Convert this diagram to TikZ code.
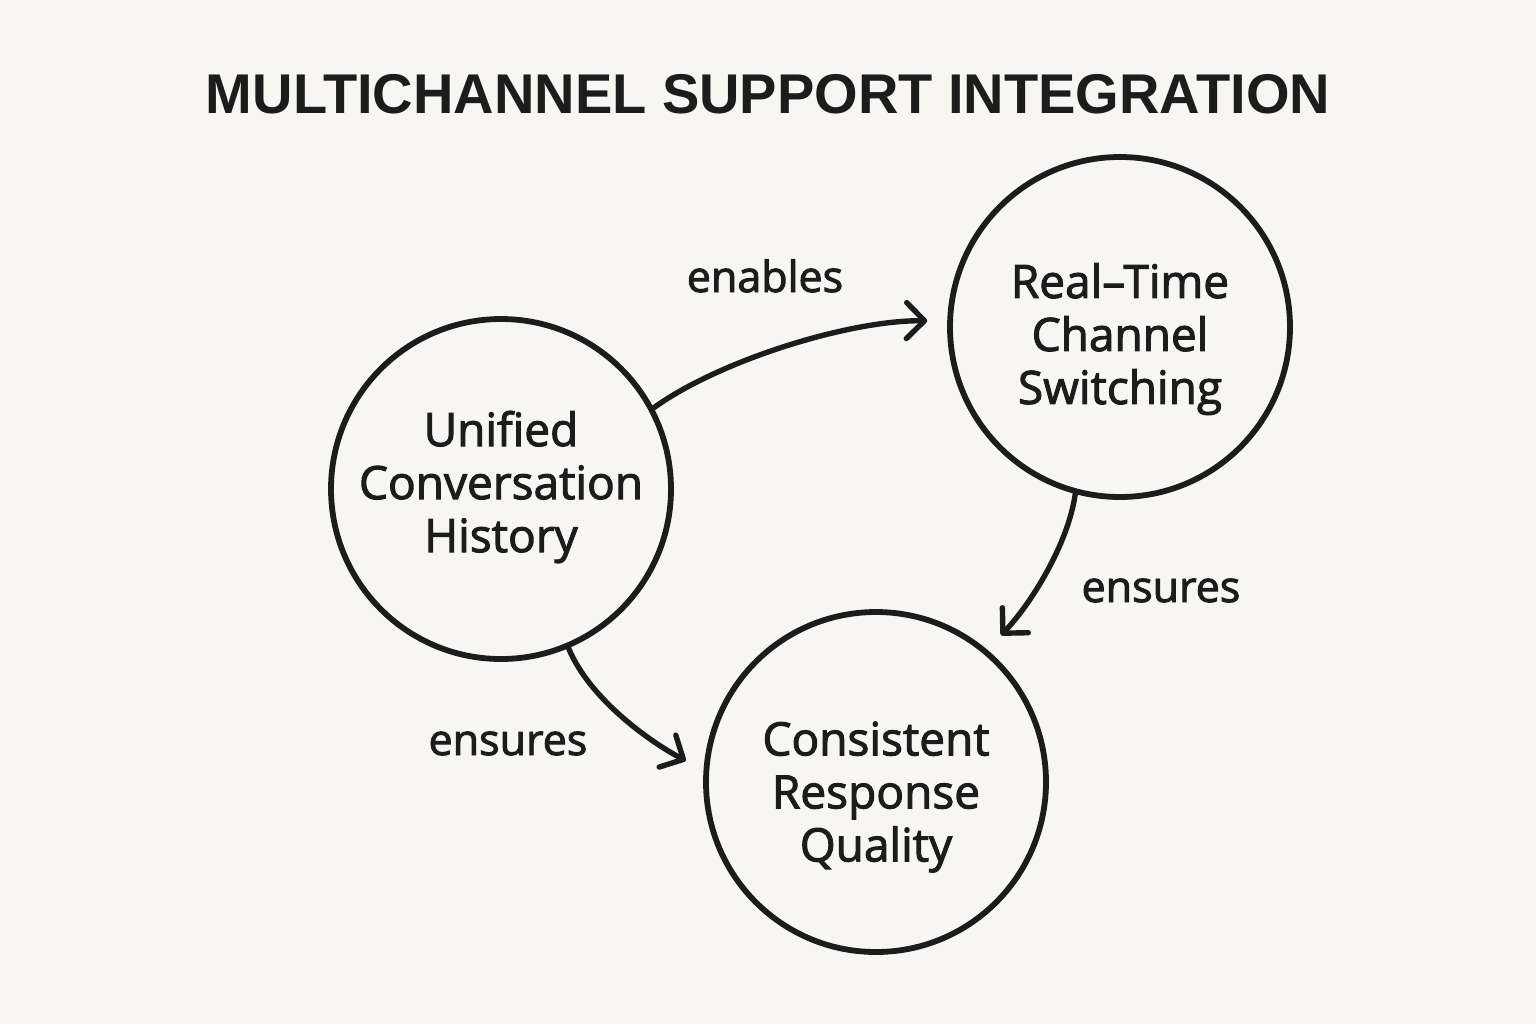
\documentclass[tikz,border=0pt]{standalone}
\usepackage{fontspec}
\setmainfont{Open Sans}
\newfontfamily\medfont{Open Sans}[FakeBold=2.2]
\newfontfamily\titlefont{Liberation Sans}
\usetikzlibrary{arrows.meta}
\definecolor{bg}{HTML}{F8F6F2}
\definecolor{ink}{HTML}{1C1C1C}
\begin{document}
\begin{tikzpicture}[x=0.5pt,y=-0.5pt,
  concept/.style={circle, draw=ink, line width=2.9pt, minimum size=170pt, inner sep=0pt},
  ctext/.style={align=center, text=ink, inner sep=0pt, font=\medfont\fontsize{23}{26.5}\selectfont},
  link/.style={draw=ink, line width=2.7pt, line cap=round,
    -{Straight Barb[length=9pt,width=18pt,round]}, shorten >=10pt},
  lbl/.style={text=ink, anchor=base, font=\medfont\fontsize{21.5}{24}\selectfont},
  heading/.style={text=ink, anchor=base, font=\titlefont\bfseries\fontsize{28}{34}\selectfont}]
\fill[bg] (0,0) rectangle (1536,1024);
\useasboundingbox (0,0) rectangle (1536,1024);

\node[heading] (title) at (768,113) {MULTICHANNEL SUPPORT INTEGRATION};

\node[concept] (u) at (501,489) {};
\node[concept] (r) at (1120,327) {};
\node[concept] (c) at (876,782) {};

\node[ctext] (ut) at ([yshift=1pt]u.center) {Unified\\Conversation\\History};
\node[ctext] (rt) at ([yshift=-6pt]r.center) {Real–Time\\Channel\\Switching};
\node[ctext] (ct) at ([yshift=-7.5pt]c.center) {Consistent\\Response\\Quality};

\draw[link] (u.28.6) .. controls (720,360) and (850,320) .. (r.178.7);
\draw[link] (r.255.6) .. controls (1068,545) and (1030,605) .. (c.50.5);
\draw[link] (u.293.5) .. controls (590,700) and (652,743) .. (c.176.7);

\node[lbl] (l1) at (765,292) {enables};
\node[lbl] (l2) at (1161,602) {ensures};
\node[lbl] (l3) at (508,755) {ensures};
\end{tikzpicture}
\end{document}
